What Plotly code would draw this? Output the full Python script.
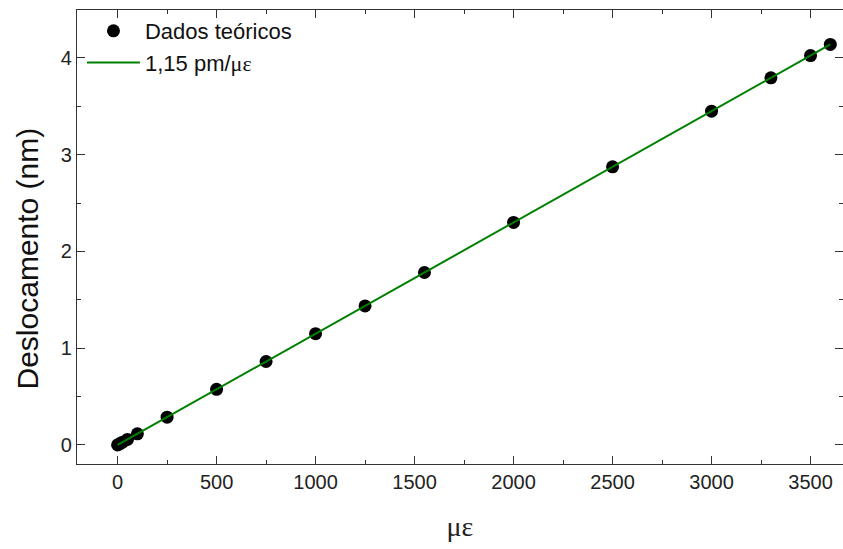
import plotly.graph_objects as go

# Data
strain = [0, 10, 25, 50, 100, 250, 500, 750, 1000, 1250, 1550, 2000, 2500, 3000, 3300, 3500, 3600]
displacement = [0.0, 0.0115, 0.029, 0.0575, 0.115, 0.2875, 0.575, 0.8625, 1.15, 1.4375, 1.7825, 2.30, 2.875, 3.45, 3.795, 4.025, 4.14]
fit_x = [0, 3600]
fit_y = [0.0, 4.14]

fig = go.Figure()
fig.add_trace(go.Scatter(x=strain, y=displacement, mode="markers", name="Dados teóricos",
                         marker=dict(color="black", size=13, symbol="circle")))
fig.add_trace(go.Scatter(x=fit_x, y=fit_y, mode="lines",
                         name='1,15 pm/<span style="font-family:Liberation Serif">με</span>',
                         line=dict(color="#008000", width=2)))

axis_common = dict(showline=True, linecolor="#333333", linewidth=1.3, mirror="allticks",
                   ticks="inside", ticklen=8, tickwidth=1.3, tickcolor="#333333",
                   showgrid=False, zeroline=False,
                   tickfont=dict(family="Liberation Sans, Arial", size=20, color="#222222"))

fig.update_layout(
    width=843, height=549,
    margin=dict(l=77, r=0, t=10, b=85),
    plot_bgcolor="white", paper_bgcolor="white",
    xaxis=dict(range=[-205, 3664], tickvals=[0, 500, 1000, 1500, 2000, 2500, 3000, 3500],
               minor=dict(ticks="inside", ticklen=4, tickwidth=1.3, tickcolor="#333333", dtick=250, tick0=0),
               title=dict(text="με", font=dict(family="Liberation Serif, Times New Roman", size=28, color="#222222"),
                          standoff=24),
               **axis_common),
    yaxis=dict(range=[-0.197, 4.496], tickvals=[0, 1, 2, 3, 4],
               minor=dict(ticks="inside", ticklen=4, tickwidth=1.3, tickcolor="#333333", dtick=0.5, tick0=0),
               **axis_common),
    legend=dict(x=0.0065, y=1.0, xanchor="left", yanchor="top", bgcolor="rgba(0,0,0,0)",
                font=dict(family="Liberation Sans, Arial", size=22, color="#111111"),
                itemwidth=53, tracegroupgap=0),
    showlegend=True,
    annotations=[dict(text="Deslocamento (nm)", textangle=-90, xref="paper", yref="paper",
                      x=-0.064, y=0.4526, xanchor="center", yanchor="middle", showarrow=False,
                      font=dict(family="Liberation Sans, Arial", size=30, color="#111111"))],
)

fig.write_html("out.html")
